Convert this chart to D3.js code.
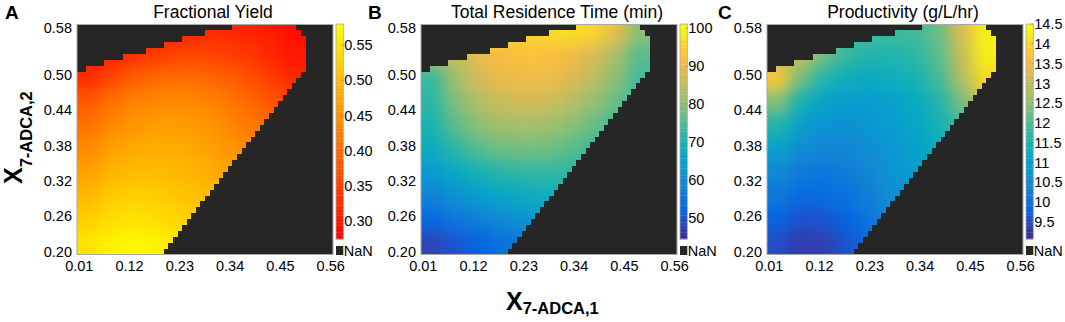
<!DOCTYPE html>
<html>
<head>
<meta charset="utf-8">
<script src="https://cdn.jsdelivr.net/npm/d3@7"></script>
<style>
  body { margin: 0; background: #fff; }
  text { font-family: "Liberation Sans", Arial, sans-serif; fill: #000; }
</style>
</head>
<body>
<div id="chart"></div>
<script>
/* ---- data ---- */
var xTicks = [0.01, 0.12, 0.23, 0.34, 0.45, 0.56];
var yTicks = [0.20, 0.26, 0.32, 0.38, 0.44, 0.50, 0.58];

// valid (non-NaN) region, one entry per row from 0.20 to 0.58
var maskLo = [0.01,0.01,0.01,0.01,0.01,0.01,0.01,0.01,0.01,0.01,
              0.01,0.01,0.01,0.01,0.01,0.01,0.01,0.01,0.01,0.01,
              0.01,0.01,0.01,0.01,0.01,0.01,0.01,0.01,0.01,0.01,
              0.01,0.03,0.07,0.11,0.16,0.20,0.24,0.29,0.35];
var maskHi = [0.19,0.20,0.21,0.22,0.23,0.24,0.25,0.26,0.27,0.28,
              0.29,0.30,0.31,0.32,0.33,0.34,0.35,0.36,0.37,0.38,
              0.39,0.40,0.41,0.42,0.43,0.44,0.45,0.46,0.47,0.48,
              0.49,0.50,0.50,0.50,0.50,0.50,0.50,0.49,0.48];

// coarse readings: blocks of 5 columns x 4 rows, lower-left corners
var gridX = [0.01, 0.06, 0.11, 0.16, 0.21, 0.26, 0.31, 0.36, 0.41, 0.46];
var gridY = [0.20, 0.24, 0.28, 0.32, 0.36, 0.40, 0.44, 0.48, 0.52, 0.56];

var yieldVals = [
  [0.548,0.566,0.572,0.566,0.550,null,null,null,null,null],
  [0.522,0.540,0.546,0.542,0.530,0.515,null,null,null,null],
  [0.495,0.515,0.522,0.520,0.510,0.500,null,null,null,null],
  [0.468,0.490,0.500,0.500,0.495,0.485,0.470,null,null,null],
  [0.440,0.465,0.478,0.482,0.480,0.470,0.458,0.440,null,null],
  [0.410,0.437,0.455,0.462,0.462,0.455,0.440,0.420,0.400,null],
  [0.380,0.410,0.430,0.440,0.440,0.435,0.420,0.400,0.375,0.350],
  [0.325,0.360,0.385,0.400,0.405,0.400,0.390,0.370,0.345,0.320],
  [null, 0.315,0.330,0.345,0.355,0.355,0.350,0.340,0.320,0.300],
  [null, null, null, null, 0.310,0.320,0.320,0.315,0.305,0.290]
];
var timeVals = [
  [48,  50,  52,  54,  56,  null,null,null,null,null],
  [53,  55.5,57.5,59.5,61.5,63,  null,null,null,null],
  [58,  61,  63.5,65.5,67,  68,  null,null,null,null],
  [63,  66.5,69.5,71.5,72.5,72.5,72,  null,null,null],
  [67.5,72,  75.5,77.5,78,  77.5,76,  73.5,null,null],
  [70,  76,  80,  82,  82.5,82,  80,  77,  74,  null],
  [72,  79,  83.5,86,  87,  86.5,84.5,81,  77,  73],
  [73,  82,  87,  89.5,90.5,90,  88.5,85,  80,  74],
  [null,85,  89.5,91.5,92.5,92.5,91,  88,  83,  76],
  [null,null,null,null,95,  96,  97,  96,  90,  80]
];
var prodVals = [
  [9.50,9.30,9.35,9.60,9.95,null,null,null,null,null],
  [9.80,9.55,9.60,9.80,10.1,10.45,null,null,null,null],
  [10.15,9.90,9.90,10.05,10.3,10.6,null,null,null,null],
  [10.5,10.2,10.15,10.25,10.45,10.7,10.9,null,null,null],
  [11.0,10.55,10.4,10.45,10.6,10.75,11.0,11.3,null,null],
  [11.6,10.95,10.7,10.65,10.75,10.9,11.1,11.45,11.9,null],
  [12.4,11.45,11.05,10.9,10.9,11.0,11.2,11.6,12.3,13.2],
  [13.8,12.3,11.6,11.35,11.25,11.3,11.5,11.9,12.8,14.0],
  [null,13.0,12.3,11.8,11.6,11.6,11.7,12.1,13.0,14.3],
  [null,null,null,null,11.9,11.85,11.9,12.2,13.2,14.3]
];

var yieldTicks = [0.30, 0.35, 0.40, 0.45, 0.50, 0.55];
var timeTicks = [50, 60, 70, 80, 90, 100];
var prodTicks = [9.5, 10, 10.5, 11, 11.5, 12, 12.5, 13, 13.5, 14, 14.5];

/* ---- colour maps ---- */
var parulaStops = ["#35298f","#3243ba","#0363e1","#0d75dc","#1485d4","#0998d1","#06a7c6",
                   "#15b1b4","#38b99e","#65be86","#92bf73","#b7bd64","#d9ba56","#f8bb44",
                   "#fcce2e","#f5eb18","#f9fb0e"];
var parulaPos = [0,4,8,12,16,20,24,28,32,36,40,44,48,52,56,60,63].map(function(d){ return d/63; });
var parula = d3.scaleLinear().domain(parulaPos).range(parulaStops).clamp(true);
var autumn = d3.scaleLinear().domain([0,1]).range(["#ff0000","#ffff00"]).clamp(true);

var panels = [
  { letter:"A", left:77,  right:333,  title:"Fractional Yield", vals:yieldVals,
    dom:[0.274,0.58], cmap:autumn, ticks:yieldTicks, fmt:d3.format(".2f") },
  { letter:"B", left:421, right:677,  title:"Total Residence Time (min)", vals:timeVals,
    dom:[44.4,101.1], cmap:parula, ticks:timeTicks, fmt:function(d){ return String(d); } },
  { letter:"C", left:767, right:1023, title:"Productivity (g/L/hr)", vals:prodVals,
    dom:[9.06,14.5], cmap:parula, ticks:prodTicks, fmt:function(d){ return String(d); } }
];

var plotTop = 24.5, plotBottom = 254.5;
var nanColor = "#262626";
var rows = d3.range(39).map(function(j){ return +(0.20 + 0.01*j).toFixed(2); });

var svg = d3.select("#chart").append("svg")
  .attr("width", 1065).attr("height", 322);

var defs = svg.append("defs");
defs.append("filter").attr("id", "smooth")
  .attr("color-interpolation-filters", "sRGB")
  .append("feGaussianBlur").attr("stdDeviation", 8);

panels.forEach(function(p, pi){
  var cw = (p.right - p.left) / 56;
  var rh = (plotBottom - plotTop) / 39;
  var x = d3.scaleLinear().domain([0.01, 0.56]).range([p.left + cw/2, p.right - cw/2]);
  var y = d3.scaleLinear().domain([0.20, 0.58]).range([plotBottom - rh/2, plotTop + rh/2]);
  var norm = d3.scaleLinear().domain(p.dom).range([0, 1]);
  var color = function(v){ return p.cmap(norm(v)); };

  defs.append("clipPath").attr("id", "clip" + pi)
    .append("rect").attr("x", p.left).attr("y", plotTop)
    .attr("width", p.right - p.left).attr("height", plotBottom - plotTop);

  var g = svg.append("g").attr("clip-path", "url(#clip" + pi + ")");

  // fill hidden blocks with the nearest reading in the same row (only used for smoothing)
  var cells = [];
  p.vals.forEach(function(row, yi){
    row.forEach(function(v, xi){
      var val = v, k = 1;
      while (val == null) {
        if (xi - k >= 0 && row[xi - k] != null) val = row[xi - k];
        else if (xi + k < row.length && row[xi + k] != null) val = row[xi + k];
        k++;
      }
      cells.push({ xi: xi, yi: yi, v: val });
    });
  });

  function bx0(d){ return d.xi === 0 ? p.left - 30 : x(gridX[d.xi] - 0.005); }
  function bx1(d){ return d.xi === gridX.length - 1 ? p.right + 30 : x(gridX[d.xi] + 0.045); }
  function by0(d){ return d.yi === gridY.length - 1 ? plotTop - 30 : y(gridY[d.yi] + 0.035); }
  function by1(d){ return d.yi === 0 ? plotBottom + 30 : y(gridY[d.yi] - 0.005); }

  g.append("g").attr("filter", "url(#smooth)")
    .selectAll("rect").data(cells).enter().append("rect")
      .attr("x", bx0)
      .attr("width", function(d){ return bx1(d) - bx0(d) + 0.5; })
      .attr("y", by0)
      .attr("height", function(d){ return by1(d) - by0(d) + 0.5; })
      .attr("fill", function(d){ return color(d.v); });

  // NaN mask, row by row
  var mask = g.append("g").attr("fill", nanColor).attr("shape-rendering", "crispEdges");
  rows.forEach(function(r, j){
    var yt = y(r + 0.005), yb = y(r - 0.005);
    if (maskLo[j] > 0.01) {
      mask.append("rect").attr("x", p.left).attr("y", yt)
        .attr("width", x(maskLo[j] - 0.005) - p.left).attr("height", yb - yt);
    }
    mask.append("rect").attr("x", x(maskHi[j] + 0.005)).attr("y", yt)
      .attr("width", p.right - x(maskHi[j] + 0.005)).attr("height", yb - yt);
  });

  // axes box
  svg.append("rect").attr("x", p.left).attr("y", plotTop)
    .attr("width", p.right - p.left).attr("height", plotBottom - plotTop)
    .attr("fill", "none").attr("stroke", "#a8a8a8").attr("stroke-width", 1);

  // tick labels
  svg.append("g").selectAll("text").data(yTicks).enter().append("text")
    .attr("x", p.left - 5).attr("y", function(d){ return y(d); }).attr("dy", "0.36em")
    .attr("text-anchor", "end").attr("font-size", "14.5px")
    .text(d3.format(".2f"));
  svg.append("g").selectAll("text").data(xTicks).enter().append("text")
    .attr("x", function(d){ return x(d); }).attr("y", 270.5)
    .attr("text-anchor", "middle").attr("font-size", "14.5px")
    .text(d3.format(".2f"));

  // title and panel letter
  svg.append("text").attr("x", (p.left + p.right)/2 + 8).attr("y", 17.5)
    .attr("text-anchor", "middle").attr("font-size", "17.5px").text(p.title);
  svg.append("text").attr("x", [5, 368, 718][pi]).attr("y", 18.5)
    .attr("font-size", "19px").attr("font-weight", "bold").text(p.letter);

  // colour bar
  var cbX = p.right + 3, cbW = 7.3, cbTop = 24, cbBot = 239;
  var cy = d3.scaleLinear().domain(p.dom).range([cbBot, cbTop]);
  var levels = d3.range(64);
  var step = (p.dom[1] - p.dom[0]) / 64;
  svg.append("g").selectAll("rect").data(levels).enter().append("rect")
    .attr("x", cbX).attr("width", cbW)
    .attr("y", function(k){ return cy(p.dom[0] + (k + 1) * step); })
    .attr("height", function(k){ return cy(p.dom[0] + k * step) - cy(p.dom[0] + (k + 1) * step) + 0.3; })
    .attr("fill", function(k){ return color(p.dom[0] + (k + 0.5) * step); });
  svg.append("rect").attr("x", cbX).attr("y", cbTop).attr("width", cbW).attr("height", cbBot - cbTop)
    .attr("fill", "none").attr("stroke", "#a8a8a8").attr("stroke-width", 0.8);
  svg.append("g").selectAll("line").data(p.ticks).enter().append("line")
    .attr("x1", cbX + cbW - 2).attr("x2", cbX + cbW)
    .attr("y1", function(d){ return cy(d); }).attr("y2", function(d){ return cy(d); })
    .attr("stroke", "#777").attr("stroke-width", 0.6);
  svg.append("g").selectAll("text").data(p.ticks).enter().append("text")
    .attr("x", cbX + cbW + 1).attr("y", function(d){ return cy(d); }).attr("dy", "0.36em")
    .attr("font-size", "14.5px").text(p.fmt);

  svg.append("rect").attr("x", cbX).attr("y", 246).attr("width", cbW).attr("height", 9)
    .attr("fill", nanColor);
  svg.append("text").attr("x", cbX + cbW + 0.5).attr("y", 250.5).attr("dy", "0.36em")
    .attr("font-size", "14.5px").text("NaN");
});

// axis titles
var xt = svg.append("text").attr("x", 506).attr("y", 310)
  .attr("font-weight", "bold").attr("font-size", "25px");
xt.append("tspan").text("X");
xt.append("tspan").attr("dy", 3.5).attr("font-size", "16.5px").text("7-ADCA,1");

var yt = svg.append("text").attr("transform", "translate(22,184) rotate(-90)")
  .attr("font-weight", "bold").attr("font-size", "25px");
yt.append("tspan").text("X");
yt.append("tspan").attr("dy", 10).attr("font-size", "16.5px").text("7-ADCA,2");
</script>
</body>
</html>
